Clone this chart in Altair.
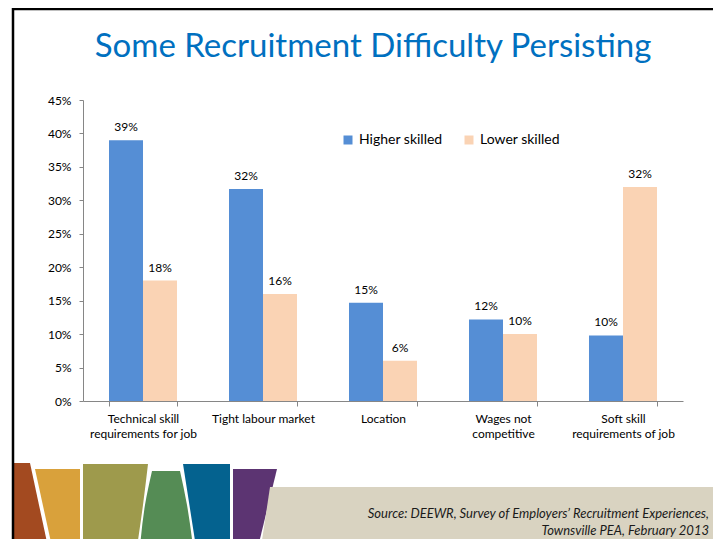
import altair as alt
import pandas as pd

# ---- chart data ----
categories = [
    "Technical skill\nrequirements for job",
    "Tight labour market",
    "Location",
    "Wages not\ncompetitive",
    "Soft skill\nrequirements of job",
]
series = ["Higher skilled", "Lower skilled"]
higher = [39.0, 31.7, 14.7, 12.2, 9.8]
lower = [18.0, 16.0, 6.0, 10.0, 32.0]
y_ticks = [0, 5, 10, 15, 20, 25, 30, 35, 40, 45]

title_text = "Some Recruitment Difficulty Persisting"
source_line1 = "Source:  DEEWR, Survey of Employers\u2019 Recruitment Experiences,"
source_line2 = "Townsville PEA, February 2013"

colors = ["#558ED5", "#FAD3B4"]
FONT = "Lato"

rows = []
for i, c in enumerate(categories):
    rows.append({"category": c, "series": series[0], "value": higher[i]})
    rows.append({"category": c, "series": series[1], "value": lower[i]})
df = pd.DataFrame(rows)

W, H = 600, 301

# ---- decorative slide footer (plot-pixel coordinates) ----
decor_pieces = [
    ("brown", "#A34A20", [(363, -70, -53), (447, -70, -35)]),
    ("gold", "#D9A13B", [(369, -48, -3), (447, -31, -3)]),
    ("olive", "#9E9A4C", [(364, 0, 65), (405, 0, 60), (447, 0, 54)]),
    ("green", "#558C55", [(371, 69, 97), (405, 62, 104), (447, 57, 110)]),
    ("blue", "#04628F", [(364, 100, 147), (447, 113, 147)]),
    ("purple", "#5C3472", [(369, 150, 194), (447, 150, 175)]),
    ("band", "#D9D3C1", [(387, 187, 650), (447, 178, 650)]),
]
decor_rows = []
for name, col, pts in decor_pieces:
    for (yy, xl, xr) in pts:
        decor_rows.append({"piece": name, "col": col, "y": yy, "xl": xl, "xr": xr})
decor_df = pd.DataFrame(decor_rows)

decor = alt.Chart(decor_df).mark_area(orient="horizontal", interpolate="monotone").encode(
    y=alt.Y("y:Q", scale=alt.Scale(domain=[0, H], range=[0, H], nice=False, zero=False), axis=None),
    x=alt.X("xl:Q", scale=alt.Scale(domain=[0, W], range=[0, W], nice=False, zero=False), axis=None),
    x2="xr:Q",
    color=alt.Color("col:N", scale=None),
    detail="piece:N",
)

one = alt.Data(values=[{}])

border_left = alt.Chart(one).mark_rule(color="black", strokeWidth=2.5).encode(
    x=alt.value(-70), y=alt.value(-92), y2=alt.value(445)
)
border_top = alt.Chart(one).mark_rule(color="black", strokeWidth=2.5).encode(
    x=alt.value(-71), x2=alt.value(640), y=alt.value(-91)
)

title = alt.Chart(one).mark_text(
    font=FONT, fontSize=33, color="#0070C0", align="center", baseline="alphabetic"
).encode(x=alt.value(290), y=alt.value(-43), text=alt.value(title_text))

src1 = alt.Chart(one).mark_text(
    font=FONT, fontSize=13, fontStyle="italic", color="#1a1a1a", align="right", baseline="alphabetic"
).encode(x=alt.value(626), y=alt.value(418), text=alt.value(source_line1))
src2 = alt.Chart(one).mark_text(
    font=FONT, fontSize=13, fontStyle="italic", color="#1a1a1a", align="right", baseline="alphabetic"
).encode(x=alt.value(626), y=alt.value(435), text=alt.value(source_line2))

# ---- bars ----
base = alt.Chart(df).encode(
    x=alt.X(
        "category:N",
        sort=categories,
        scale=alt.Scale(paddingInner=0.4333, paddingOuter=0.2167),
        axis=alt.Axis(
            title=None,
            labelAngle=0,
            labelExpr="split(datum.label, '\\n')",
            tickBand="extent",
            tickSize=5,
            labelPadding=7,
            labelFontSize=12,
            labelFont=FONT,
            labelColor="#000000",
            labelLineHeight=15,
            domainColor="#868686",
            tickColor="#868686",
        ),
    ),
    xOffset=alt.XOffset("series:N", sort=series, scale=alt.Scale(paddingInner=0, paddingOuter=0)),
    y=alt.Y(
        "value:Q",
        scale=alt.Scale(domain=[0, 45], nice=False),
        axis=alt.Axis(
            title=None,
            values=y_ticks,
            labelExpr="datum.value + '%'",
            grid=False,
            tickSize=4,
            labelPadding=8,
            labelFontSize=12,
            labelFont=FONT,
            labelColor="#000000",
            domainColor="#868686",
            tickColor="#868686",
        ),
    ),
)

bars = base.mark_bar().encode(
    color=alt.Color(
        "series:N",
        sort=series,
        scale=alt.Scale(domain=series, range=colors),
        legend=alt.Legend(
            title=None,
            orient="none",
            legendX=258,
            legendY=33,
            direction="horizontal",
            symbolType="square",
            symbolSize=81,
            symbolStrokeWidth=0,
            labelFontSize=14,
            labelFont=FONT,
            labelColor="#000000",
            labelOffset=4,
            columnPadding=19,
        ),
    )
)

labels = base.mark_text(
    font=FONT, fontSize=12, color="#000000", baseline="bottom", dy=-6
).encode(text=alt.Text("lbl:N")).transform_calculate(
    lbl="format(datum.value / 100, '.0%')"
)

bar_layer = alt.layer(bars, labels)

chart = alt.layer(
    decor, border_left, border_top, title, src1, src2, bar_layer
).resolve_scale(
    x="independent", y="independent", color="independent"
).properties(
    width=W,
    height=H,
    autosize=alt.AutoSizeParams(type="none"),
    padding={"left": 75, "top": 92, "right": 30, "bottom": 138},
).configure_view(stroke=None)

chart.save("out.html", embed_options={"renderer": "svg", "actions": False})
